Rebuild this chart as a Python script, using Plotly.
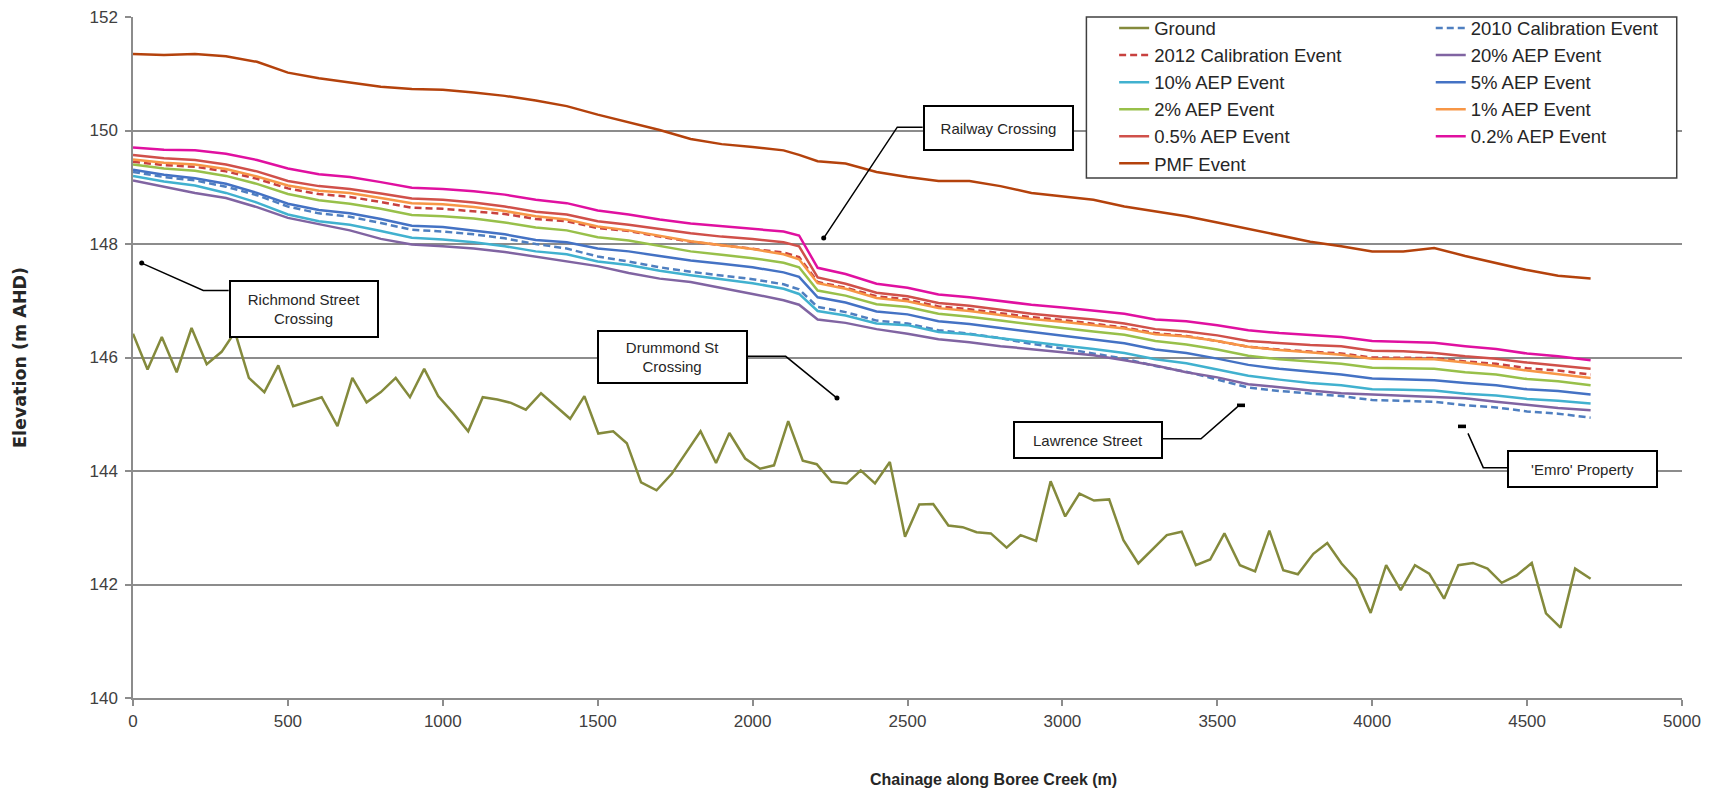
import plotly.graph_objects as go

# ---------------- data ----------------
GROUND_X = [0, 47, 93, 141, 189, 238, 286, 329, 374, 424, 469, 517, 563, 609, 660, 708, 754, 800, 848, 894,
            940, 985, 1034, 1082, 1129, 1176, 1220, 1268, 1317, 1362, 1411, 1457, 1502, 1550, 1594, 1640, 1690,
            1739, 1787, 1832, 1882, 1925, 1976, 2024, 2069, 2115, 2162, 2207, 2255, 2304, 2349, 2395, 2443,
            2492, 2538, 2583, 2632, 2678, 2723, 2769, 2820, 2865, 2915, 2962, 3009, 3055, 3102, 3151, 3197,
            3245, 3337, 3385, 3431, 3477, 3523, 3573, 3622, 3668, 3713, 3760, 3810, 3855, 3901, 3948, 3995,
            4045, 4092, 4138, 4184, 4232, 4278, 4325, 4372, 4418, 4466, 4515, 4561, 4608, 4655, 4705]
GROUND_Y = [146.42, 145.79, 146.36, 145.74, 146.52, 145.88, 146.10, 146.45, 145.64, 145.39, 145.86, 145.14,
            145.22, 145.30, 144.79, 145.64, 145.21, 145.39, 145.64, 145.30, 145.80, 145.32, 145.02, 144.70,
            145.30, 145.26, 145.20, 145.08, 145.37, 145.16, 144.92, 145.32, 144.66, 144.70, 144.49, 143.80,
            143.66, 143.95, 144.33, 144.70, 144.14, 144.67, 144.22, 144.04, 144.10, 144.88, 144.18, 144.12,
            143.81, 143.78, 144.01, 143.78, 144.16, 142.84, 143.41, 143.42, 143.04, 143.01, 142.92, 142.90,
            142.65, 142.87, 142.77, 143.82, 143.20, 143.60, 143.48, 143.50, 142.78, 142.37, 142.87, 142.93,
            142.34, 142.44, 142.90, 142.34, 142.23, 142.95, 142.25, 142.18, 142.54, 142.73, 142.37, 142.09,
            141.50, 142.34, 141.90, 142.34, 142.19, 141.75, 142.34, 142.38, 142.28, 142.03, 142.16, 142.38,
            141.49, 141.24, 142.28, 142.10]

FLOOD_X = [0, 100, 200, 300, 400, 500, 600, 700, 800, 900, 1000, 1100, 1200, 1300, 1400, 1500, 1600, 1700,
           1800, 1900, 2000, 2100, 2150, 2210, 2300, 2400, 2500, 2600, 2700, 2800, 2900, 3000, 3100, 3200,
           3300, 3400, 3500, 3600, 3700, 3800, 3900, 4000, 4100, 4200, 4300, 4400, 4500, 4600, 4705]

CAL_2010 = [149.27, 149.18, 149.12, 149.01, 148.86, 148.66, 148.54, 148.48, 148.37, 148.25, 148.22, 148.17,
            148.10, 148.00, 147.92, 147.78, 147.69, 147.59, 147.51, 147.45, 147.38, 147.29, 147.20, 146.89,
            146.80, 146.65, 146.60, 146.48, 146.42, 146.34, 146.24, 146.16, 146.07, 145.98, 145.85, 145.75,
            145.61, 145.47, 145.41, 145.36, 145.32, 145.25, 145.24, 145.22, 145.16, 145.12, 145.05, 145.01,
            144.94]
CAL_2012 = [149.45, 149.39, 149.36, 149.28, 149.15, 148.98, 148.88, 148.83, 148.74, 148.64, 148.62, 148.58,
            148.53, 148.44, 148.40, 148.28, 148.23, 148.13, 148.04, 147.98, 147.92, 147.85, 147.77, 147.33,
            147.23, 147.08, 147.02, 146.90, 146.85, 146.78, 146.71, 146.66, 146.60, 146.53, 146.43, 146.38,
            146.29, 146.19, 146.14, 146.10, 146.07, 146.00, 146.00, 145.99, 145.93, 145.89, 145.81, 145.77,
            145.70]
AEP_20 = [149.12, 149.01, 148.90, 148.81, 148.65, 148.46, 148.35, 148.24, 148.09, 147.99, 147.96, 147.92,
          147.86, 147.78, 147.70, 147.61, 147.49, 147.39, 147.33, 147.23, 147.12, 147.01, 146.93, 146.67,
          146.61, 146.50, 146.42, 146.32, 146.27, 146.20, 146.15, 146.10, 146.04, 145.95, 145.86, 145.74,
          145.65, 145.53, 145.47, 145.42, 145.37, 145.35, 145.33, 145.31, 145.28, 145.22, 145.16, 145.11,
          145.07]
AEP_10 = [149.20, 149.10, 149.03, 148.90, 148.73, 148.52, 148.40, 148.34, 148.23, 148.11, 148.08, 148.03,
          147.96, 147.87, 147.82, 147.69, 147.63, 147.53, 147.45, 147.38, 147.31, 147.21, 147.12, 146.82,
          146.74, 146.60, 146.57, 146.45, 146.41, 146.34, 146.27, 146.21, 146.15, 146.08, 145.97, 145.90,
          145.79, 145.68, 145.61, 145.55, 145.51, 145.44, 145.43, 145.42, 145.36, 145.33, 145.27, 145.24,
          145.19]
AEP_5 = [149.31, 149.22, 149.16, 149.06, 148.90, 148.71, 148.60, 148.54, 148.44, 148.32, 148.30, 148.24,
         148.17, 148.07, 148.03, 147.92, 147.87, 147.79, 147.71, 147.65, 147.59, 147.50, 147.42, 147.06,
         146.97, 146.81, 146.76, 146.64, 146.59, 146.52, 146.45, 146.39, 146.32, 146.25, 146.14, 146.08,
         145.98, 145.87, 145.80, 145.75, 145.70, 145.63, 145.62, 145.60, 145.55, 145.51, 145.44, 145.41,
         145.35]
AEP_2 = [149.40, 149.33, 149.29, 149.20, 149.06, 148.88, 148.77, 148.71, 148.62, 148.51, 148.49, 148.45,
         148.38, 148.29, 148.24, 148.12, 148.06, 147.96, 147.87, 147.81, 147.75, 147.67, 147.59, 147.18,
         147.09, 146.94, 146.89, 146.77, 146.72, 146.65, 146.58, 146.52, 146.46, 146.40, 146.29, 146.23,
         146.14, 146.03, 145.97, 145.93, 145.89, 145.82, 145.81, 145.80, 145.74, 145.70, 145.62, 145.58,
         145.51]
AEP_1 = [149.49, 149.43, 149.40, 149.32, 149.19, 149.03, 148.94, 148.90, 148.81, 148.72, 148.70, 148.65,
         148.58, 148.49, 148.43, 148.31, 148.24, 148.14, 148.05, 147.98, 147.91, 147.82, 147.73, 147.31,
         147.21, 147.05, 146.99, 146.87, 146.82, 146.75, 146.68, 146.63, 146.57, 146.51, 146.41, 146.37,
         146.29, 146.19, 146.13, 146.09, 146.05, 145.98, 145.98, 145.97, 145.91, 145.85, 145.77, 145.71,
         145.64]
AEP_05 = [149.57, 149.51, 149.48, 149.40, 149.28, 149.11, 149.02, 148.97, 148.89, 148.80, 148.78, 148.73,
          148.66, 148.57, 148.52, 148.40, 148.34, 148.26, 148.19, 148.13, 148.09, 148.03, 147.96, 147.41,
          147.30, 147.14, 147.08, 146.96, 146.91, 146.84, 146.77, 146.72, 146.67, 146.60, 146.50, 146.46,
          146.39, 146.29, 146.25, 146.22, 146.20, 146.12, 146.11, 146.08, 146.02, 145.98, 145.91, 145.86,
          145.80]
AEP_02 = [149.70, 149.66, 149.65, 149.59, 149.48, 149.33, 149.23, 149.18, 149.09, 148.99, 148.97, 148.93,
          148.87, 148.78, 148.72, 148.59, 148.52, 148.43, 148.36, 148.31, 148.27, 148.22, 148.15, 147.58,
          147.47, 147.30, 147.23, 147.11, 147.06, 146.99, 146.93, 146.88, 146.83, 146.77, 146.67, 146.64,
          146.57, 146.48, 146.43, 146.39, 146.36, 146.29, 146.28, 146.26, 146.20, 146.15, 146.07, 146.02,
          145.95]
PMF = [151.35, 151.33, 151.35, 151.31, 151.21, 151.02, 150.92, 150.84, 150.77, 150.73, 150.72, 150.67,
       150.61, 150.53, 150.43, 150.28, 150.14, 150.01, 149.85, 149.76, 149.71, 149.65, 149.57, 149.46,
       149.42, 149.27, 149.18, 149.11, 149.11, 149.02, 148.90, 148.84, 148.78, 148.66, 148.57, 148.49,
       148.38, 148.27, 148.15, 148.04, 147.96, 147.87, 147.87, 147.93, 147.79, 147.66, 147.54, 147.44,
       147.39]

X_TICKS = [0, 500, 1000, 1500, 2000, 2500, 3000, 3500, 4000, 4500, 5000]
Y_TICKS = [140, 142, 144, 146, 148, 150, 152]

# ---------------- figure ----------------
NARROW = "Liberation Sans Narrow, Arial Narrow, Liberation Sans, sans-serif"
LW = 2.5

series = [
    ("Ground", GROUND_X, GROUND_Y, "#848a3c", "solid", "legend"),
    ("2010 Calibration Event", FLOOD_X, CAL_2010, "#4f7fc0", "7px,4px", "legend2"),
    ("2012 Calibration Event", FLOOD_X, CAL_2012, "#c8413f", "7px,4px", "legend"),
    ("20% AEP Event", FLOOD_X, AEP_20, "#8064a2", "solid", "legend2"),
    ("10% AEP Event", FLOOD_X, AEP_10, "#41b1cf", "solid", "legend"),
    ("5% AEP Event", FLOOD_X, AEP_5, "#4472c4", "solid", "legend2"),
    ("2% AEP Event", FLOOD_X, AEP_2, "#98c04a", "solid", "legend"),
    ("1% AEP Event", FLOOD_X, AEP_1, "#f79646", "solid", "legend2"),
    ("0.5% AEP Event", FLOOD_X, AEP_05, "#d0504a", "solid", "legend"),
    ("0.2% AEP Event", FLOOD_X, AEP_02, "#e010a0", "solid", "legend2"),
    ("PMF Event", FLOOD_X, PMF, "#b4420c", "solid", "legend"),
]

fig = go.Figure()
for name, xs, ys, col, dash, leg in series:
    fig.add_trace(go.Scatter(x=xs, y=ys, mode="lines", name=name, legend=leg,
                             line=dict(color=col, width=LW, dash=dash)))

AX_GREY = "#8c8c8c"
fig.update_layout(
    width=1710, height=794,
    margin=dict(l=133, r=28, t=17, b=96, autoexpand=False),
    paper_bgcolor="white", plot_bgcolor="white",
    font=dict(family=NARROW, size=17, color="#404040"),
    showlegend=True,
    legend=dict(x=0.6334, y=1.011, xanchor="left", yanchor="top", bgcolor="rgba(0,0,0,0)",
                borderwidth=0, font=dict(family=NARROW, size=18.5, color="#262626"),
                tracegroupgap=0),
    legend2=dict(x=0.8378, y=1.011, xanchor="left", yanchor="top", bgcolor="rgba(0,0,0,0)",
                 borderwidth=0, font=dict(family=NARROW, size=18.5, color="#262626"),
                 tracegroupgap=0),
    xaxis=dict(range=[0, 5000], tickvals=X_TICKS, showgrid=False, zeroline=False,
               showline=True, linecolor=AX_GREY, linewidth=1.5, ticks="outside", ticklen=6,
               tickcolor=AX_GREY, tickwidth=1.5, ticklabelstandoff=1,
               tickfont=dict(family=NARROW, size=17, color="#404040")),
    yaxis=dict(range=[140, 152], tickvals=Y_TICKS, showgrid=True, gridcolor=AX_GREY, gridwidth=1.5,
               zeroline=False, showline=True, linecolor=AX_GREY, linewidth=1.5, ticks="outside",
               ticklen=6, tickcolor=AX_GREY, tickwidth=1.5, ticklabelstandoff=4,
               tickfont=dict(family=NARROW, size=17, color="#404040")),
)

# axis titles
fig.add_annotation(text="<b>Chainage along Boree Creek (m)</b>", xref="paper", yref="paper",
                   x=0.5556, y=-0.12, xanchor="center", yanchor="middle", showarrow=False,
                   font=dict(family=NARROW, size=16, color="#262626"))
fig.add_annotation(text="<b>Elevation (m AHD)</b>", xref="paper", yref="paper",
                   x=-0.0733, y=0.5, xanchor="center", yanchor="middle", textangle=-90, showarrow=False,
                   font=dict(family="DejaVu Sans", size=17.5, color="#262626"))

# legend frame
fig.add_shape(type="rect", xref="paper", yref="paper", x0=0.6155, x1=0.9966, y0=0.7636, y1=1.0,
              line=dict(color="#404040", width=1.5), fillcolor="white", layer="above")

# callouts: (text, box centre x, y, box width px, box height px, leader path, dot x, y, dot shape)
callouts = [
    ("Richmond Street<br>Crossing", 551, 146.856, 150, 58,
     [(308.9, 147.182), (226.9, 147.182), (28.1, 147.663)], (28.1, 147.663), "dot"),
    ("Railway Crossing", 2793, 150.045, 151, 46,
     [(2549, 150.059), (2467, 150.059), (2229.5, 148.104)], (2229.5, 148.104), "dot"),
    ("Drummond St<br>Crossing", 1741.4, 146.002, 151, 54,
     [(1985.1, 146.020), (2106.8, 146.020), (2272.4, 145.285)], (2272.4, 145.285), "dot"),
    ("Lawrence Street", 3082.6, 144.544, 150, 38,
     [(3324.7, 144.567), (3447.4, 144.567), (3565, 145.13)], (3576.5, 145.157), "dash"),
    ("'Emro' Property", 4680.4, 144.042, 151, 38,
     [(4437.4, 144.059), (4358.6, 144.059), (4309.2, 144.663)], (4289.9, 144.786), "dash"),
]
for text, cx, cy, w, h, path, dot, kind in callouts:
    d = "M " + " L ".join(f"{px},{py}" for px, py in path)
    fig.add_shape(type="path", path=d, xref="x", yref="y", line=dict(color="black", width=1.5))
    if kind == "dot":
        fig.add_shape(type="circle", xref="x", yref="y", xsizemode="pixel", ysizemode="pixel",
                      xanchor=dot[0], yanchor=dot[1], x0=-2.5, x1=2.5, y0=-2.5, y1=2.5,
                      fillcolor="black", line=dict(width=0))
    else:
        fig.add_shape(type="rect", xref="x", yref="y", xsizemode="pixel", ysizemode="pixel",
                      xanchor=dot[0], yanchor=dot[1], x0=-4, x1=4, y0=-1.8, y1=1.8,
                      fillcolor="black", line=dict(width=0))
    fig.add_annotation(text=text, x=cx, y=cy, xref="x", yref="y", xanchor="center", yanchor="middle",
                       showarrow=False, width=w - 4, height=h - 4, borderpad=0, borderwidth=2,
                       bordercolor="black", bgcolor="white", align="center",
                       font=dict(family=NARROW, size=15, color="#262626"))

fig.write_html("out.html", config={"displayModeBar": False},
               post_script="document.body.style.margin='0';document.body.style.overflow='hidden';")
